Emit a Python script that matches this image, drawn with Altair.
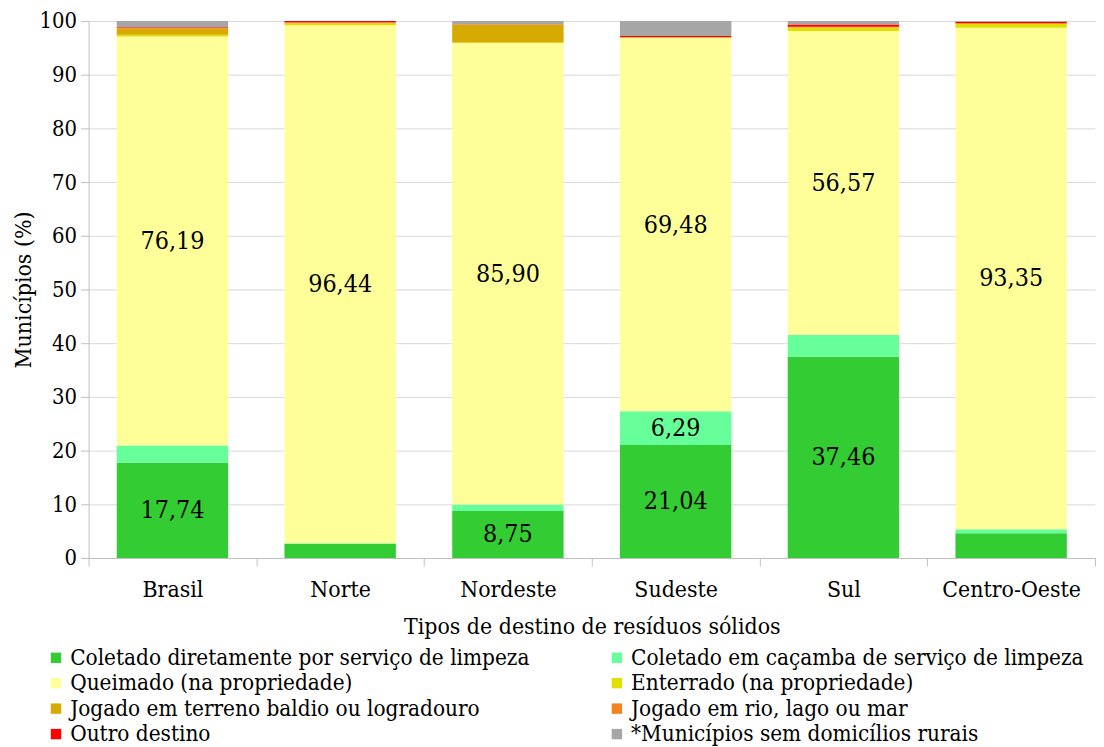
import altair as alt
import pandas as pd

regions = ["Brasil", "Norte", "Nordeste", "Sudeste", "Sul", "Centro-Oeste"]
series = [
    "Coletado diretamente por serviço de limpeza",
    "Coletado em caçamba de serviço de limpeza",
    "Queimado (na propriedade)",
    "Enterrado (na propriedade)",
    "Jogado em terreno baldio ou logradouro",
    "Jogado em rio, lago ou mar",
    "Outro destino",
    "*Municípios sem domicílios rurais",
]
colors = ["#33CC33", "#66FF99", "#FFFF99", "#E0E000", "#D6AA00", "#F5821F", "#FF0000", "#A6A6A6"]

# values per series, in region order
coletado_direto = [17.74, 2.65, 8.75, 21.04, 37.46, 4.63]
coletado_cacamba = [3.20, 0.10, 1.23, 6.29, 4.10, 0.74]
queimado = [76.19, 96.44, 85.90, 69.48, 56.57, 93.35]
enterrado = [0.30, 0.35, 0.10, 0.05, 0.60, 0.70]
terreno = [1.10, 0.10, 3.30, 0.05, 0.10, 0.10]
rio = [0.15, 0.10, 0.05, 0.10, 0.10, 0.05]
outro = [0.15, 0.26, 0.05, 0.20, 0.40, 0.30]
sem_rural = [1.17, 0.00, 0.62, 2.79, 0.67, 0.13]

all_vals = [coletado_direto, coletado_cacamba, queimado, enterrado, terreno, rio, outro, sem_rural]

rows = []
for si, (s, vals) in enumerate(zip(series, all_vals)):
    for r, v in zip(regions, vals):
        rows.append({
            "region": r,
            "series": s,
            "order": si,
            "value": v,
            "label": f"{v:.2f}".replace(".", ",") if v >= 5 else "",
        })
df = pd.DataFrame(rows)

# legend is filled column by column: reorder so it reads row by row
legend_idx = [0, 2, 4, 6, 1, 3, 5, 7]
legend_domain = [series[i] for i in legend_idx]
legend_range = [colors[i] for i in legend_idx]

FONT = "DejaVu Serif Condensed, DejaVu Serif"

x_enc = alt.X(
    "region:N",
    sort=regions,
    scale=alt.Scale(paddingInner=0, paddingOuter=0),
    axis=alt.Axis(
        title="Tipos de destino de resíduos sólidos",
        labelAngle=0,
        labelFontSize=23,
        titleFontSize=23,
        labelPadding=13,
        titlePadding=14,
        tickBand="extent",
        tickSize=8,
        tickColor="#BFBFBF",
        domainColor="#BFBFBF",
        labelColor="black",
        titleColor="black",
        labelFont=FONT,
        titleFont=FONT,
        titleFontWeight="normal",
    ),
)

bars = alt.Chart(df).mark_bar(size=112).encode(
    x=x_enc,
    y=alt.Y(
        "value:Q",
        stack="zero",
        scale=alt.Scale(domain=[0, 100]),
        axis=alt.Axis(
            title="Municípios (%)",
            values=list(range(0, 101, 10)),
            labelFontSize=22,
            titleFontSize=23,
            tickSize=8,
            labelPadding=4,
            titlePadding=4,
            tickColor="#BFBFBF",
            domainColor="#BFBFBF",
            gridColor="#D9D9D9",
            labelColor="black",
            titleColor="black",
            labelFont=FONT,
            titleFont=FONT,
            titleFontWeight="normal",
        ),
    ),
    color=alt.Color(
        "series:N",
        scale=alt.Scale(domain=legend_domain, range=legend_range),
        legend=alt.Legend(
            title=None,
            orient="none",
            legendX=-44,
            legendY=629,
            columns=2,
            columnPadding=76,
            rowPadding=2.6,
            symbolType="square",
            symbolSize=110,
            symbolStrokeWidth=0,
            labelFontSize=22.5,
            labelFont=FONT,
            labelColor="black",
            labelLimit=600,
            labelOffset=3,
        ),
    ),
    order=alt.Order("order:Q", sort="ascending"),
)

labels = alt.Chart(df).transform_stack(
    stack="value",
    groupby=["region"],
    as_=["y0", "y1"],
    sort=[alt.SortField("order", order="ascending")],
).transform_calculate(
    mid="(datum.y0 + datum.y1) / 2"
).transform_filter(
    "datum.label != ''"
).mark_text(font=FONT, fontSize=25, color="black", baseline="middle").encode(
    x=alt.X("region:N", sort=regions),
    y=alt.Y("mid:Q"),
    text="label:N",
)

chart = alt.layer(bars, labels).properties(
    width=1012,
    height=540,
    padding={"left": 4, "top": 0, "right": 0, "bottom": 0},
).configure(font=FONT).configure_view(stroke=None).configure_axis(grid=False).configure_axisY(grid=True)

chart.save("out.html", embed_options={"renderer": "svg", "actions": False})
